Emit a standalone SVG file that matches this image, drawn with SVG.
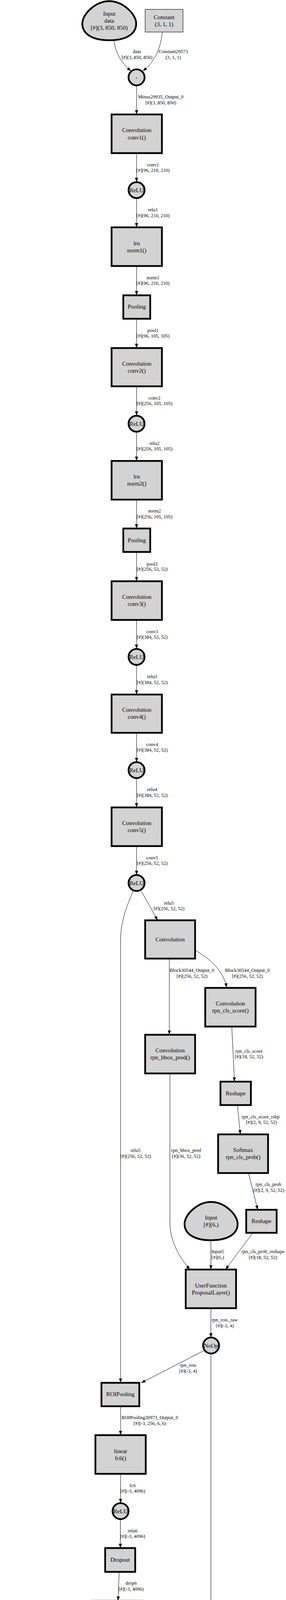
<svg xmlns="http://www.w3.org/2000/svg" width="733" height="5381" viewBox="0 0 733 5381">
<style>
.op{fill:#d3d3d3;stroke:#000;stroke-width:4.5}
.cst{fill:#d3d3d3;stroke:#222;stroke-width:1.3}
.e{fill:none;stroke:#000;stroke-width:1}
.t{font-family:"Liberation Serif","Times New Roman",serif;font-size:15px;text-anchor:middle;fill:#000}
.l{font-family:"Liberation Serif","Times New Roman",serif;font-size:12.5px;text-anchor:middle;fill:#000}
.big{font-size:22px}
</style>
<defs>
<marker id="a" markerWidth="11" markerHeight="8" refX="11" refY="4" orient="auto" markerUnits="userSpaceOnUse"><path d="M0,0 L11,4 L0,8 z" fill="#000"/></marker>
</defs>
<rect width="733" height="5381" fill="#fff"/>
<g id="edges">
<g><path class="e" marker-end="url(#a)" d="M292,103 C296,135 310,160 336,182"/><text class="l" x="351" y="136">data</text><text class="l" x="351" y="151">[#](3, 850, 850)</text></g>
<g><path class="e" marker-end="url(#a)" d="M416,82 C412,120 400,155 366,182"/><text class="l" x="444" y="136">Constant29573</text><text class="l" x="444" y="151">(3, 1, 1)</text></g>
<g><path class="e" marker-end="url(#a)" d="M350,219 L350,293"/><text class="l" x="412" y="252">Minus29935_Output_0</text><text class="l" x="412" y="267">[#](3, 850, 850)</text></g>
<g><path class="e" marker-end="url(#a)" d="M350,392 L350,466"/><text class="l" x="392" y="426">conv1</text><text class="l" x="392" y="440">[#](96, 210, 210)</text></g>
<g><path class="e" marker-end="url(#a)" d="M350,507 L350,582"/><text class="l" x="392" y="541">relu1</text><text class="l" x="392" y="556">[#](96, 210, 210)</text></g>
<g><path class="e" marker-end="url(#a)" d="M350,681 L350,756"/><text class="l" x="392" y="715">norm1</text><text class="l" x="392" y="729">[#](96, 210, 210)</text></g>
<g><path class="e" marker-end="url(#a)" d="M350,816 L350,891"/><text class="l" x="392" y="850">pool1</text><text class="l" x="392" y="864">[#](96, 105, 105)</text></g>
<g><path class="e" marker-end="url(#a)" d="M350,989 L350,1064"/><text class="l" x="396" y="1023">conv2</text><text class="l" x="396" y="1037">[#](256, 105, 105)</text></g>
<g><path class="e" marker-end="url(#a)" d="M350,1105 L350,1180"/><text class="l" x="396" y="1139">relu2</text><text class="l" x="396" y="1153">[#](256, 105, 105)</text></g>
<g><path class="e" marker-end="url(#a)" d="M350,1279 L350,1353"/><text class="l" x="396" y="1312">norm2</text><text class="l" x="396" y="1327">[#](256, 105, 105)</text></g>
<g><path class="e" marker-end="url(#a)" d="M350,1413 L350,1488"/><text class="l" x="390" y="1448">pool2</text><text class="l" x="390" y="1461">[#](256, 52, 52)</text></g>
<g><path class="e" marker-end="url(#a)" d="M350,1587 L350,1661"/><text class="l" x="390" y="1621">conv3</text><text class="l" x="390" y="1635">[#](384, 52, 52)</text></g>
<g><path class="e" marker-end="url(#a)" d="M350,1702 L350,1778"/><text class="l" x="390" y="1736">relu3</text><text class="l" x="390" y="1751">[#](384, 52, 52)</text></g>
<g><path class="e" marker-end="url(#a)" d="M350,1876 L350,1951"/><text class="l" x="390" y="1910">conv4</text><text class="l" x="390" y="1924">[#](384, 52, 52)</text></g>
<g><path class="e" marker-end="url(#a)" d="M350,1992 L350,2067"/><text class="l" x="390" y="2025">relu4</text><text class="l" x="390" y="2040">[#](384, 52, 52)</text></g>
<g><path class="e" marker-end="url(#a)" d="M350,2166 L350,2240"/><text class="l" x="390" y="2200">conv5</text><text class="l" x="390" y="2214">[#](256, 52, 52)</text></g>
<g><path class="e" marker-end="url(#a)" d="M362,2281 L404,2356"/><text class="l" x="433" y="2316">relu5</text><text class="l" x="433" y="2330">[#](256, 52, 52)</text></g>
<g><path class="e" marker-end="url(#a)" d="M341,2281 C330,2310 309,2350 309,2410 L309,3540"/><text class="l" x="347.5" y="2949">relu5</text><text class="l" x="347.5" y="2964">[#](256, 52, 52)</text></g>
<g><path class="e" marker-end="url(#a)" d="M434,2454 L434,2649"/><text class="l" x="492" y="2488">Block30544_Output_0</text><text class="l" x="492" y="2503">[#](256, 52, 52)</text></g>
<g><path class="e" marker-end="url(#a)" d="M501,2433 C530,2450 572,2480 581,2528"/><text class="l" x="634" y="2488">Block30544_Output_0</text><text class="l" x="634" y="2503">[#](256, 52, 52)</text></g>
<g><path class="e" marker-end="url(#a)" d="M594,2628 L601,2769"/><text class="l" x="638" y="2695">rpn_cls_score</text><text class="l" x="638" y="2709">[#](18, 52, 52)</text></g>
<g><path class="e" marker-end="url(#a)" d="M608.5,2829 L616,2904"/><text class="l" x="668" y="2863">rpn_cls_score_rshp</text><text class="l" x="670" y="2877">[#](2, 9, 52, 52)</text></g>
<g><path class="e" marker-end="url(#a)" d="M637,3003 L660.5,3097"/><text class="l" x="688" y="3036">rpn_cls_prob</text><text class="l" x="689" y="3051">[#](2, 9, 52, 52)</text></g>
<g><path class="e" marker-end="url(#a)" d="M435.5,2748 L435.5,3130 C436,3180 462,3222 487,3250"/><text class="l" x="477" y="2949">rpn_bbox_pred</text><text class="l" x="477" y="2964">[#](36, 52, 52)</text></g>
<g><path class="e" marker-end="url(#a)" d="M540.5,3175 L540.5,3250"/><text class="l" x="558" y="3208">Input5</text><text class="l" x="558" y="3223">[#](6,)</text></g>
<g><path class="e" marker-end="url(#a)" d="M648,3156 L578,3250"/><text class="l" x="674" y="3208">rpn_cls_prob_reshape</text><text class="l" x="674" y="3223">[#](18, 52, 52)</text></g>
<g><path class="e" marker-end="url(#a)" d="M540.5,3349 L540.5,3424"/><text class="l" x="576" y="3383">rpn_rois_raw</text><text class="l" x="576" y="3398">[#](-3, 4)</text></g>
<g><path class="e" marker-end="url(#a)" d="M522,3458 L362,3540"/><text class="l" x="482" y="3499">rpn_rois</text><text class="l" x="482" y="3514">[#](-3, 4)</text></g>
<g><path class="e" marker-end="url(#a)" d="M540.5,3465 L540.5,5030 C540.5,5070 525,5095 503.5,5120"/><text class="l" x="563" y="4290">rpn_rois</text><text class="l" x="563" y="4304">[#](-3, 4)</text></g>
<g><path class="e" marker-end="url(#a)" d="M309,3600 L309,3674"/><text class="l" x="384" y="3633">ROIPooling30973_Output_0</text><text class="l" x="384" y="3648">[#](-3, 256, 6, 6)</text></g>
<g><path class="e" marker-end="url(#a)" d="M309,3773 L309,3848"/><text class="l" x="340" y="3807">fc6</text><text class="l" x="340" y="3821">[#](-3, 4096)</text></g>
<g><path class="e" marker-end="url(#a)" d="M308.5,3889 L308.5,3963"/><text class="l" x="340" y="3923">relu6</text><text class="l" x="340" y="3937">[#](-3, 4096)</text></g>
<g><path class="e" marker-end="url(#a)" d="M305.4,4024 L302.6,4098"/><text class="l" x="336" y="4057">drop6</text><text class="l" x="336" y="4072">[#](-3, 4096)</text></g>
<g><path class="e" marker-end="url(#a)" d="M289,4197 L274,4272"/><text class="l" x="316" y="4231">fc7</text><text class="l" x="316" y="4245">[#](-3, 4096)</text></g>
<g><path class="e" marker-end="url(#a)" d="M269.5,4313 L268.5,4391"/><text class="l" x="301" y="4347">relu7</text><text class="l" x="301" y="4361">[#](-3, 4096)</text></g>
<g><path class="e" marker-end="url(#a)" d="M58,4452 L58,4539"/><text class="l" x="92.7" y="4487">bbox_regr.W</text><text class="l" x="92.7" y="4501">(4096, 8)</text></g>
<g><path class="e" marker-end="url(#a)" d="M228,4448 L78,4546"/><text class="l" x="214" y="4487">drop7</text><text class="l" x="214" y="4501">[#](-3, 4096)</text></g>
<g><path class="e" marker-end="url(#a)" d="M274,4451 C280,4480 288,4510 292,4539"/><text class="l" x="318" y="4487">drop7</text><text class="l" x="318" y="4501">[#](-3, 4096)</text></g>
<g><path class="e" marker-end="url(#a)" d="M372,4452 C365,4490 340,4525 320,4545"/><text class="l" x="398.6" y="4487">cls_score.W</text><text class="l" x="398.6" y="4501">(4096, 2)</text></g>
<g><path class="e" marker-end="url(#a)" d="M57.7,4581 C57.7,4640 75,4660 120,4661 C160,4662 175,4672 187,4683"/><text class="l" x="137" y="4627">Times31015_Output_0</text><text class="l" x="137" y="4641">[#](-3, 8)</text></g>
<g><path class="e" marker-end="url(#a)" d="M205,4592 L205,4677"/><text class="l" x="238" y="4627">bbox_regr.b</text><text class="l" x="238" y="4641">(8,)</text></g>
<g><path class="e" marker-end="url(#a)" d="M302.6,4581 C305,4640 330,4680 423,4693"/><text class="l" x="387" y="4627">Times31011_Output_0</text><text class="l" x="387" y="4641">[#](-3, 2)</text></g>
<g><path class="e" marker-end="url(#a)" d="M454.5,4592 L454.5,4677"/><text class="l" x="484.6" y="4627">cls_score.b</text><text class="l" x="484.6" y="4641">(2,)</text></g>
<g><path class="e" marker-end="url(#a)" d="M103,4727 C106,4770 120,4792 145,4800 C165,4807 180,4810 192,4819"/><text class="l" x="162" y="4761">Constant31222</text><text class="l" x="162" y="4777">(8,)</text></g>
<g><path class="e" marker-end="url(#a)" d="M205.5,4719 L211,4812"/><text class="l" x="236" y="4761">bbox_regr</text><text class="l" x="236" y="4777">[#](-3, 8)</text></g>
<g><path class="e" marker-end="url(#a)" d="M454.5,4719 L454.5,4883"/><text class="l" x="479" y="4761">cls_score</text><text class="l" x="479" y="4777">[#](-3, 2)</text></g>
<g><path class="e" marker-end="url(#a)" d="M100,4861 C100,4920 104,4960 125,4983 C140,5000 165,5010 195,5018"/><text class="l" x="165.5" y="4929">Constant31226</text><text class="l" x="165.5" y="4945">(8,)</text></g>
<g><path class="e" marker-end="url(#a)" d="M213,4854 L214,5003"/><text class="l" x="296.5" y="4929">ElementTimes31223_Output_0</text><text class="l" x="296.5" y="4945">[#](-3, 8)</text></g>
<g><path class="e" marker-end="url(#a)" d="M236.4,5038 L389,5128"/><text class="l" x="363" y="5080">bbox_regr</text><text class="l" x="363" y="5094">[#](-3, 8)</text></g>
<g><path class="e" marker-end="url(#a)" d="M454.5,4982 L454.5,5120"/><text class="l" x="477.5" y="5022">cls_pred</text><text class="l" x="477.5" y="5036">[#](-3, 2)</text></g>
<g><path class="e" marker-end="url(#a)" d="M404,5218 L336,5290"/><text class="l" x="403" y="5252">[#](-3, 2)</text></g>
<g><path class="e" marker-end="url(#a)" d="M454.5,5218 L454.5,5278"/><text class="l" x="476.6" y="5252">[#](-3, 4)</text></g>
<g><path class="e" marker-end="url(#a)" d="M505,5218 L577,5290"/><text class="l" x="562" y="5252">[#](-3, 8)</text></g>
</g>
<g id="nodes">
<g id="input_data"><path class="op" d="M280,3 C314.5,3 349,35.5 349,60.5 C349,88 321.4,103 280,103 C238.6,103 211,88 211,60.5 C211,35.5 245.5,3 280,3 Z"/><text class="t" x="280" y="40">Input</text><text class="t" x="280" y="58">data</text><text class="t" x="280" y="76">[#](3, 850, 850)</text></g>
<g id="const_mean"><rect class="cst" x="372" y="24" width="97" height="58"/><text class="t" x="420.5" y="49">Constant</text><text class="t" x="420.5" y="67">(3, 1, 1)</text></g>
<g id="minus"><ellipse class="op" cx="350" cy="198" rx="20.5" ry="20.5"/><text class="t" x="350" y="203">-</text></g>
<g id="conv1"><rect class="op" x="286" y="293" width="129" height="99"/><text class="t" x="350.5" y="338">Convolution</text><text class="t" x="350.5" y="357">conv1()</text></g>
<g id="relu1"><ellipse class="op" cx="350" cy="486.7" rx="20.5" ry="20.5"/><text class="t" x="350" y="491.7">ReLU</text></g>
<g id="norm1"><rect class="op" x="286" y="582" width="129" height="99"/><text class="t" x="350.5" y="628">lrn</text><text class="t" x="350.5" y="646">norm1()</text></g>
<g id="pool1"><rect class="op" x="316" y="756" width="69" height="60"/><text class="t" x="350.5" y="790">Pooling</text></g>
<g id="conv2"><rect class="op" x="286" y="891" width="129" height="98"/><text class="t" x="350.5" y="936">Convolution</text><text class="t" x="350.5" y="954">conv2()</text></g>
<g id="relu2"><ellipse class="op" cx="350" cy="1084.7" rx="20.5" ry="20.5"/><text class="t" x="350" y="1089.7">ReLU</text></g>
<g id="norm2"><rect class="op" x="286" y="1180" width="129" height="99"/><text class="t" x="350.5" y="1225">lrn</text><text class="t" x="350.5" y="1243">norm2()</text></g>
<g id="pool2"><rect class="op" x="316" y="1353" width="69" height="60"/><text class="t" x="350.5" y="1388">Pooling</text></g>
<g id="conv3"><rect class="op" x="286" y="1488" width="129" height="99"/><text class="t" x="350.5" y="1533">Convolution</text><text class="t" x="350.5" y="1551">conv3()</text></g>
<g id="relu3"><ellipse class="op" cx="350" cy="1681.7" rx="20.5" ry="20.5"/><text class="t" x="350" y="1686.7">ReLU</text></g>
<g id="conv4"><rect class="op" x="286" y="1778" width="129" height="98"/><text class="t" x="350.5" y="1822">Convolution</text><text class="t" x="350.5" y="1840">conv4()</text></g>
<g id="relu4"><ellipse class="op" cx="350" cy="1971.5" rx="20.5" ry="20.5"/><text class="t" x="350" y="1976.5">ReLU</text></g>
<g id="conv5"><rect class="op" x="286" y="2067" width="129" height="99"/><text class="t" x="350.5" y="2112">Convolution</text><text class="t" x="350.5" y="2130">conv5()</text></g>
<g id="relu5"><ellipse class="op" cx="350" cy="2260.5" rx="20.5" ry="20.5"/><text class="t" x="350" y="2265.5">ReLU</text></g>
<g id="conv_block"><rect class="op" x="372" y="2356" width="128" height="98"/><text class="t" x="436" y="2410">Convolution</text></g>
<g id="rpn_cls_score"><rect class="op" x="526" y="2529" width="129" height="99"/><text class="t" x="590.5" y="2574">Convolution</text><text class="t" x="590.5" y="2592">rpn_cls_score()</text></g>
<g id="rpn_bbox_pred"><rect class="op" x="372" y="2649" width="128" height="99"/><text class="t" x="436" y="2694">Convolution</text><text class="t" x="436" y="2712">rpn_bbox_pred()</text></g>
<g id="reshape1"><rect class="op" x="565" y="2769" width="78" height="60"/><text class="t" x="604" y="2804">Reshape</text></g>
<g id="rpn_cls_prob"><rect class="op" x="559" y="2904" width="128" height="99"/><text class="t" x="623" y="2949">Softmax</text><text class="t" x="623" y="2967">rpn_cls_prob()</text></g>
<g id="input5"><path class="op" d="M541,3077 C575,3077 609,3108.85 609,3133.35 C609,3160.3 581.8,3175 541,3175 C500.2,3175 473,3160.3 473,3133.35 C473,3108.85 507,3077 541,3077 Z"/><text class="t" x="541" y="3122">Input</text><text class="t" x="541" y="3140">[#](6,)</text></g>
<g id="reshape2"><rect class="op" x="631" y="3097" width="78" height="59"/><text class="t" x="670" y="3131">Reshape</text></g>
<g id="proposal"><rect class="op" x="476" y="3250" width="129" height="99"/><text class="t" x="540.5" y="3296">UserFunction</text><text class="t" x="540.5" y="3314">ProposalLayer()</text></g>
<g id="noop"><ellipse class="op" cx="541" cy="3444.5" rx="20.5" ry="20.5"/><text class="t" x="541" y="3449.5">NoOp</text></g>
<g id="roipool"><rect class="op" x="260" y="3540" width="97" height="60"/><text class="t" x="308.5" y="3574">ROIPooling</text></g>
<g id="fc6"><rect class="op" x="244.5" y="3674" width="129" height="99"/><text class="t" x="309" y="3720">linear</text><text class="t" x="309" y="3738">fc6()</text></g>
<g id="relu6"><ellipse class="op" cx="309" cy="3868.5" rx="20.5" ry="20.5"/><text class="t" x="309" y="3873.5">ReLU</text></g>
<g id="drop6"><rect class="op" x="269.5" y="3963" width="77" height="61"/><text class="t" x="308" y="3998">Dropout</text></g>
<g id="fc7"><rect class="op" x="235" y="4098" width="129" height="99"/><text class="t" x="299.5" y="4144">linear</text><text class="t" x="299.5" y="4162">fc7()</text></g>
<g id="relu7"><ellipse class="op" cx="269.5" cy="4292.5" rx="20.5" ry="20.5"/><text class="t" x="269.5" y="4297.5">ReLU</text></g>
<g id="drop7"><rect class="op" x="230" y="4391" width="76" height="60"/><text class="t" x="268" y="4425">Dropout</text></g>
<g id="bbox_regr_W"><rect class="cst" x="6" y="4389" width="104" height="63"/><text class="t" x="58" y="4408">Constant</text><text class="t" x="58" y="4425">bbox_regr.W</text><text class="t" x="58" y="4442">(4096, 8)</text></g>
<g id="cls_score_W"><rect class="cst" x="330" y="4389" width="100" height="63"/><text class="t" x="380" y="4408">Constant</text><text class="t" x="380" y="4425">cls_score.W</text><text class="t" x="380" y="4442">(4096, 2)</text></g>
<g id="times1"><ellipse class="op" cx="57.5" cy="4560" rx="20.5" ry="20.5"/><text class="t" x="57.5" y="4567" style="font-size:20px">@</text></g>
<g id="times2"><ellipse class="op" cx="302" cy="4560" rx="20.5" ry="20.5"/><text class="t" x="302" y="4567" style="font-size:20px">@</text></g>
<g id="bbox_regr_b"><rect class="cst" x="156" y="4529" width="98" height="63"/><text class="t" x="205" y="4548">Constant</text><text class="t" x="205" y="4565">bbox_regr.b</text><text class="t" x="205" y="4583">(8,)</text></g>
<g id="cls_score_b"><rect class="cst" x="406" y="4529" width="97" height="63"/><text class="t" x="454.5" y="4548">Constant</text><text class="t" x="454.5" y="4565">cls_score.b</text><text class="t" x="454.5" y="4583">(2,)</text></g>
<g id="plus1"><ellipse class="op" cx="205" cy="4698" rx="20.5" ry="20.5"/><text class="t big" x="205" y="4706">+</text></g>
<g id="plus2"><ellipse class="op" cx="454.5" cy="4698" rx="20.5" ry="20.5"/><text class="t big" x="454.5" y="4706">+</text></g>
<g id="const8a"><rect class="cst" x="51" y="4669" width="97" height="58"/><text class="t" x="99.5" y="4694">Constant</text><text class="t" x="99.5" y="4712">(8,)</text></g>
<g id="mul"><ellipse class="op" cx="211.5" cy="4833" rx="20.5" ry="20.5"/><text class="t" x="211.5" y="4838">*</text></g>
<g id="const8b"><rect class="cst" x="56" y="4804" width="96" height="57"/><text class="t" x="104" y="4828">Constant</text><text class="t" x="104" y="4846">(8,)</text></g>
<g id="cls_pred"><rect class="op" x="390" y="4883" width="129" height="99"/><text class="t" x="454.5" y="4929">Softmax</text><text class="t" x="454.5" y="4947">cls_pred()</text></g>
<g id="plus3"><ellipse class="op" cx="215.7" cy="5024.5" rx="20.5" ry="20.5"/><text class="t big" x="215.7" y="5032.5">+</text></g>
<g id="combine"><rect class="op" x="390" y="5120" width="129" height="98"/><text class="t" x="454.5" y="5174">Combine</text></g>
<g id="out_cls_pred"><path class="op" d="M295,5278 C329.5,5278 364,5310.5 364,5335.5 C364,5363 336.4,5378 295,5378 C253.6,5378 226,5363 226,5335.5 C226,5310.5 260.5,5278 295,5278 Z"/><text class="t" x="295" y="5325">cls_pred</text><text class="t" x="295" y="5342">[#](-3, 2)</text></g>
<g id="out_rpn_rois"><path class="op" d="M454.5,5278 C489,5278 523.5,5310.5 523.5,5335.5 C523.5,5363 495.9,5378 454.5,5378 C413.1,5378 385.5,5363 385.5,5335.5 C385.5,5310.5 420,5278 454.5,5278 Z"/><text class="t" x="454.5" y="5325">rpn_rois</text><text class="t" x="454.5" y="5342">[#](-3, 4)</text></g>
<g id="out_bbox_regr"><path class="op" d="M613.5,5278 C648,5278 682.5,5310.5 682.5,5335.5 C682.5,5363 654.9,5378 613.5,5378 C572.1,5378 544.5,5363 544.5,5335.5 C544.5,5310.5 579,5278 613.5,5278 Z"/><text class="t" x="613.5" y="5325">bbox_regr</text><text class="t" x="613.5" y="5342">[#](-3, 8)</text></g>
</g>
</svg>
